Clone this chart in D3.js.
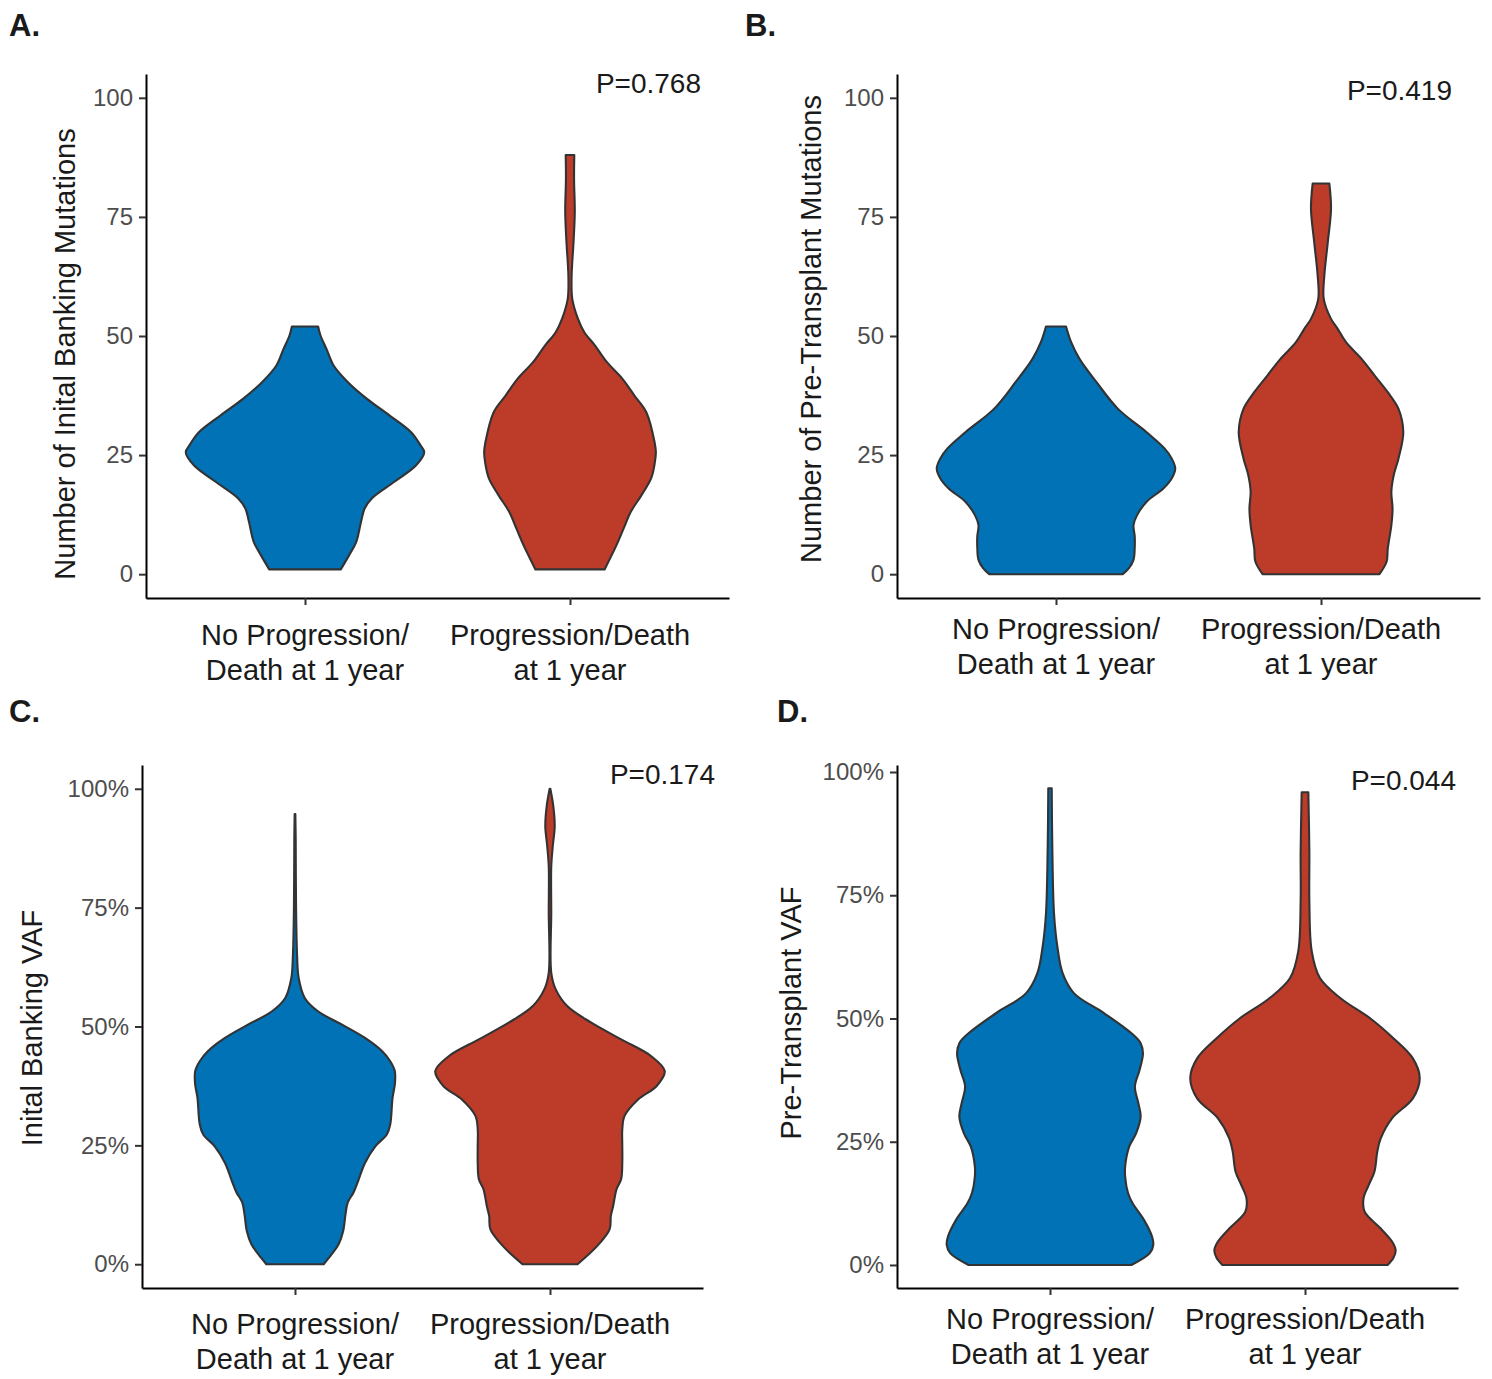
<!DOCTYPE html>
<html>
<head>
<meta charset="utf-8">
<script src="https://cdn.jsdelivr.net/npm/d3@7"></script>
<style>
  body { margin: 0; background: #fff; }
  svg text { font-family: "Liberation Sans", Arial, Helvetica, sans-serif; }
</style>
</head>
<body>
<svg id="fig" width="1492" height="1379"></svg>
<script>
// ---- data ----------------------------------------------------------------
const groups = ["noProgression", "progression"];
const groupLabels = [["No Progression/", "Death at 1 year"], ["Progression/Death", "at 1 year"]];
const groupColors = ["#0072B5", "#BC3C29"];

const countTicks = [0, 25, 50, 75, 100];
const countTickLabels = ["0", "25", "50", "75", "100"];
const vafTicks = [0, 0.25, 0.5, 0.75, 1];
const vafTickLabels = ["0%", "25%", "50%", "75%", "100%"];

const panelLetters = ["A.", "B.", "C.", "D."];
const yTitles = [
  "Number of Inital Banking Mutations",
  "Number of Pre-Transplant Mutations",
  "Inital Banking VAF",
  "Pre-Transplant VAF"
];
const pValues = ["P=0.768", "P=0.419", "P=0.174", "P=0.044"];

// Kernel density profiles: [value, density relative to the widest violin of the panel]
const bankingCountNoProg = [[1.0,0.30],[4.0,0.37],[6.8,0.43],[11.0,0.47],[13.8,0.50],[15.9,0.56],[19.4,0.75],[22.8,0.93],[25.6,1.00],[27.0,0.97],[29.8,0.89],[33.3,0.71],[36.8,0.52],[40.3,0.36],[43.8,0.24],[47.3,0.18],[50.1,0.13],[52.0,0.11]];
const bankingCountProg = [[1.0,0.29],[6.1,0.39],[9.6,0.45],[13.1,0.51],[16.6,0.60],[20.1,0.68],[23.2,0.71],[25.6,0.72],[27.6,0.71],[34.0,0.64],[37.5,0.54],[41.0,0.44],[44.5,0.31],[48.0,0.21],[50.8,0.12],[53.6,0.067],[57.8,0.019],[62.0,0.013],[65.5,0.019],[69.0,0.028],[76.0,0.040],[82.9,0.034],[88.0,0.036]];

const pretxCountNoProg = [[0.0,0.56],[1.2,0.61],[3.0,0.65],[5.5,0.66],[8.0,0.66],[10.3,0.65],[12.4,0.68],[15.2,0.76],[18.0,0.90],[20.1,0.97],[22.2,1.00],[24.3,0.97],[26.4,0.91],[29.8,0.76],[34.7,0.52],[40.3,0.34],[45.2,0.197],[48.7,0.127],[52.0,0.084]];
const pretxCountProg = [[0.0,0.49],[2.6,0.55],[5.4,0.56],[10.3,0.59],[13.8,0.60],[17.3,0.59],[20.8,0.61],[24.3,0.65],[29.8,0.69],[34.7,0.65],[38.2,0.56],[41.7,0.45],[45.2,0.34],[48.7,0.21],[51.5,0.14],[53.6,0.084],[57.8,0.023],[62.7,0.028],[69.7,0.057],[76.7,0.084],[82.0,0.070]];

const bankingVafNoProg = [[0.0,0.25],[0.021,0.32],[0.042,0.38],[0.070,0.42],[0.105,0.44],[0.130,0.46],[0.151,0.51],[0.175,0.55],[0.213,0.61],[0.248,0.70],[0.273,0.80],[0.294,0.83],[0.350,0.85],[0.378,0.87],[0.406,0.87],[0.427,0.83],[0.448,0.76],[0.476,0.61],[0.504,0.41],[0.532,0.20],[0.560,0.085],[0.602,0.032],[0.651,0.018],[0.756,0.009],[0.896,0.006],[0.947,0.003]];
const bankingVafProg = [[0.0,0.24],[0.038,0.41],[0.074,0.52],[0.101,0.53],[0.122,0.55],[0.158,0.58],[0.179,0.62],[0.214,0.63],[0.249,0.63],[0.284,0.63],[0.312,0.65],[0.347,0.77],[0.375,0.93],[0.406,1.00],[0.438,0.88],[0.473,0.62],[0.508,0.36],[0.543,0.15],[0.578,0.05],[0.613,0.011],[0.739,0.011],[0.837,0.011],[0.879,0.024],[0.921,0.041],[0.963,0.029],[1.0,0.003]];

const pretxVafNoProg = [[0.0,0.71],[0.024,0.87],[0.041,0.90],[0.057,0.89],[0.091,0.82],[0.125,0.72],[0.146,0.68],[0.179,0.655],[0.200,0.655],[0.240,0.69],[0.267,0.75],[0.301,0.79],[0.328,0.77],[0.362,0.74],[0.395,0.78],[0.429,0.81],[0.450,0.79],[0.470,0.71],[0.511,0.47],[0.551,0.21],[0.592,0.11],[0.646,0.064],[0.713,0.035],[0.849,0.020],[0.967,0.015]];
const pretxVafProg = [[0.0,0.72],[0.014,0.77],[0.030,0.79],[0.047,0.76],[0.074,0.66],[0.108,0.52],[0.135,0.51],[0.162,0.555],[0.189,0.605],[0.230,0.63],[0.257,0.66],[0.298,0.76],[0.338,0.94],[0.379,1.00],[0.419,0.94],[0.460,0.77],[0.500,0.57],[0.541,0.31],[0.582,0.13],[0.636,0.059],[0.737,0.038],[0.838,0.038],[0.959,0.029]];

// ---- layout --------------------------------------------------------------
const panels = [
  { profiles: [bankingCountNoProg, bankingCountProg], ticks: countTicks, tickLabels: countTickLabels,
    left: 146, right: 729, top: 74, bottom: 598, yDomain: [-5, 105],
    letterPos: [9, 36], titlePos: [74.6, 354], pPos: [701, 93], xLabelY: 645 },
  { profiles: [pretxCountNoProg, pretxCountProg], ticks: countTicks, tickLabels: countTickLabels,
    left: 897, right: 1480, top: 74, bottom: 598, yDomain: [-5, 105],
    letterPos: [745, 36], titlePos: [820.6, 329], pPos: [1452, 100], xLabelY: 639 },
  { profiles: [bankingVafNoProg, bankingVafProg], ticks: vafTicks, tickLabels: vafTickLabels,
    left: 142, right: 703, top: 765, bottom: 1288, yDomain: [-0.05, 1.05],
    letterPos: [9, 722], titlePos: [42, 1028], pPos: [715, 783.5], xLabelY: 1333.5 },
  { profiles: [pretxVafNoProg, pretxVafProg], ticks: vafTicks, tickLabels: vafTickLabels,
    left: 897, right: 1458, top: 765, bottom: 1288, yDomain: [-0.0467, 1.0142],
    letterPos: [777, 722], titlePos: [801, 1013], pPos: [1456, 790], xLabelY: 1329 }
];

const svg = d3.select("#fig");
const darkText = "#1a1a1a";

panels.forEach((p, i) => {
  const g = svg.append("g");

  const x = d3.scalePoint().domain(groups).range([p.left, p.right]).padding(0.6);
  const y = d3.scaleLinear().domain(p.yDomain).range([p.bottom, p.top]);
  const halfWidth = d3.scaleLinear().domain([0, 1]).range([0, 0.45 * x.step()]);

  // violins: mirrored density outline around each group position
  groups.forEach((grp, k) => {
    const cx = x(grp);
    const area = d3.area()
      .y(d => y(d[0]))
      .x0(d => cx - halfWidth(d[1]))
      .x1(d => cx + halfWidth(d[1]))
      .curve(d3.curveCatmullRom.alpha(0.5));
    g.append("path")
      .datum(p.profiles[k])
      .attr("d", area)
      .attr("fill", groupColors[k])
      .attr("stroke", "#333333")
      .attr("stroke-width", 2.1)
      .attr("stroke-linejoin", "round");
  });

  // y axis
  const yAxis = g.append("g")
    .attr("transform", `translate(${p.left},0)`)
    .call(d3.axisLeft(y).tickValues(p.ticks)
      .tickFormat((d, j) => p.tickLabels[j])
      .tickSize(7).tickSizeOuter(0).tickPadding(6));
  yAxis.select(".domain").attr("stroke", "#000").attr("stroke-width", 2);
  yAxis.selectAll(".tick line").attr("stroke", "#333").attr("stroke-width", 2);
  yAxis.selectAll(".tick text").attr("fill", "#4d4d4d").attr("font-size", 24);

  // x axis
  const xAxis = g.append("g")
    .attr("transform", `translate(0,${p.bottom})`)
    .call(d3.axisBottom(x).tickFormat("").tickSize(7).tickSizeOuter(0));
  xAxis.select(".domain").attr("stroke", "#000").attr("stroke-width", 2);
  xAxis.selectAll(".tick line").attr("stroke", "#333").attr("stroke-width", 2);

  groups.forEach((grp, k) => {
    const t = g.append("text")
      .attr("x", x(grp))
      .attr("y", p.xLabelY)
      .attr("text-anchor", "middle")
      .attr("font-size", 29)
      .attr("fill", darkText);
    groupLabels[k].forEach((line, j) => {
      t.append("tspan").attr("x", x(grp)).attr("dy", j === 0 ? 0 : 35).text(line);
    });
  });

  // y title
  g.append("text")
    .attr("transform", `translate(${p.titlePos[0]},${p.titlePos[1]}) rotate(-90)`)
    .attr("text-anchor", "middle")
    .attr("font-size", 29)
    .attr("fill", darkText)
    .text(yTitles[i]);

  // p-value annotation
  g.append("text")
    .attr("x", p.pPos[0])
    .attr("y", p.pPos[1])
    .attr("text-anchor", "end")
    .attr("font-size", 28)
    .attr("fill", darkText)
    .text(pValues[i]);

  // panel letter
  svg.append("text")
    .attr("x", p.letterPos[0])
    .attr("y", p.letterPos[1])
    .attr("font-size", 31)
    .attr("font-weight", "bold")
    .attr("fill", darkText)
    .text(panelLetters[i]);
});
</script>
</body>
</html>
